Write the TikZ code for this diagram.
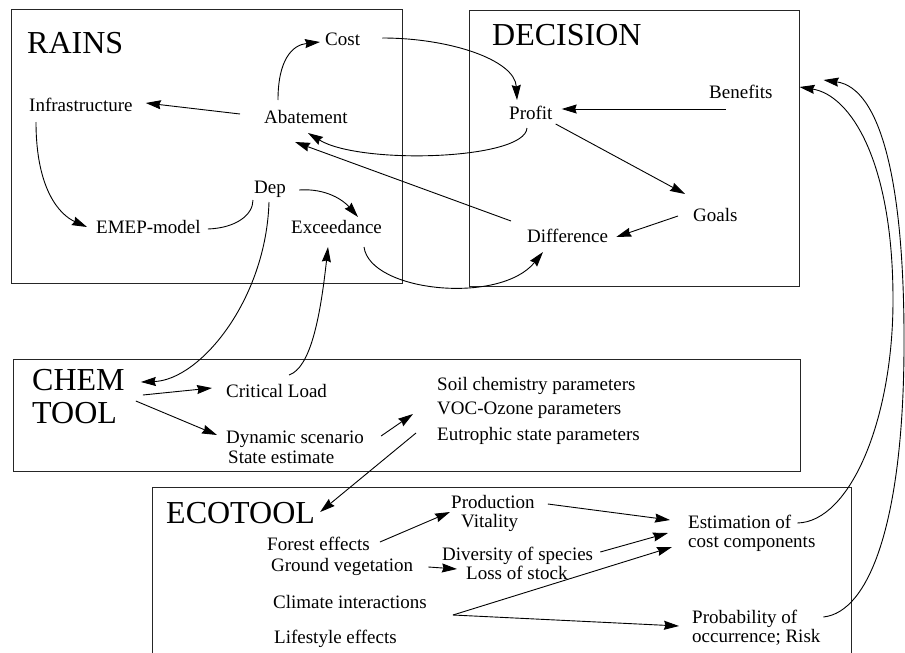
\documentclass[tikz,border=0pt]{standalone}
\usepackage{fontspec}
\setmainfont{Liberation Serif}
\usetikzlibrary{arrows.meta}
\begin{document}
\begin{tikzpicture}[x=1pt,y=-1pt,
  txt/.style={inner sep=0pt,anchor=base west,font=\fontsize{19}{19}\selectfont},
  big/.style={inner sep=0pt,anchor=base west,font=\fontsize{32}{32}\selectfont},
  frame/.style={draw=black!85,line width=1pt},
  conn/.style={line width=0.9pt,-{Stealth[length=15pt,width=9pt,inset=1.5pt]}},
  plain/.style={line width=0.9pt}]
\useasboundingbox (0,0) rectangle (905,653);
% frames
\node[frame,minimum width=391pt,minimum height=274pt,inner sep=0pt] (rainsbox) at (206.5,146) {};
\node[frame,minimum width=330pt,minimum height=276pt,inner sep=0pt] (decbox) at (634,148) {};
\node[frame,minimum width=787pt,minimum height=112pt,inner sep=0pt] (chembox) at (406.5,415) {};
\draw[frame] (152,653) -- (152,487) -- (851,487) -- (851,653);
% RAINS
\node[big] (rains) at (27,53) {RAINS};
\node[txt] (cost) at (325,45) {Cost};
\node[txt] (infra) at (29,111) {Infrastructure};
\node[txt] (abat) at (264,123) {Abatement};
\node[txt] (dep) at (254,193) {Dep};
\node[txt] (emep) at (96,233) {EMEP-model};
\node[txt] (exc) at (291,233) {Exceedance};
% DECISION
\node[big] (decision) at (492,45) {DECISION};
\node[txt] (benef) at (709,98) {Benefits};
\node[txt] (profit) at (509,119) {Profit};
\node[txt] (goals) at (693,221) {Goals};
\node[txt] (diff) at (527,242) {Difference};
% CHEM TOOL
\node[big] (chem) at (32,390) {CHEM};
\node[big] (tool) at (32,423) {TOOL};
\node[txt] (crit) at (226,397) {Critical Load};
\node[txt] (dyn) at (226,443) {Dynamic scenario};
\node[txt] (state) at (228,463) {State estimate};
\node[txt] (soil) at (437,390) {Soil chemistry parameters};
\node[txt] (voc) at (437,414) {VOC-Ozone parameters};
\node[txt] (eut) at (437,440) {Eutrophic state parameters};
% ECOTOOL
\node[big] (eco) at (166,523) {ECOTOOL};
\node[txt] (forest) at (267,550) {Forest effects};
\node[txt] (ground) at (271,571) {Ground vegetation};
\node[txt] (climate) at (273,608) {Climate interactions};
\node[txt] (life) at (274,643) {Lifestyle effects};
\node[txt] (prod) at (451,508) {Production};
\node[txt] (vital) at (461,527) {Vitality};
\node[txt] (divers) at (442,560) {Diversity of species};
\node[txt] (loss) at (466,579) {Loss of stock};
\node[txt] (est1) at (688,528) {Estimation of};
\node[txt] (est2) at (688,547) {cost components};
\node[txt] (prob1) at (692,623) {Probability of};
\node[txt] (prob2) at (692,642) {occurrence; Risk};
% RAINS connectors
\draw[conn] ([shift={(14,-23)}]abat.base west) .. controls +(0,-40) and +(-28,3) .. ([shift={(-5,-3)}]cost.base west);
\draw[conn] ([shift={(-24,-9)}]abat.base west) -- ([shift={(13,-8)}]infra.base east);
\draw[conn] ([shift={(7,11)}]infra.base west) .. controls +(0,68) and +(-27,-12) .. ([shift={(-9,-6)}]emep.base west);
\draw[plain] ([shift={(7,-4)}]emep.base east) .. controls +(28,-1) and +(0,15) .. ([shift={(-1,7)}]dep.base west);
\draw[conn] ([shift={(13,-3)}]dep.base east) .. controls +(28,-2) and +(-14,-16) .. ([shift={(67,-16)}]exc.base west);
\draw[conn] ([shift={(15,9)}]dep.base west) .. controls (266,300) and (200,380) .. ([shift={(16,-8)}]chem.base east);
\draw[conn] ([shift={(63,-22)}]crit.base west) .. controls (310,368) and (320,320) .. ([shift={(37,14)}]exc.base west);
\draw[conn] ([shift={(73,14)}]exc.base west) .. controls (370,292) and (500,305) .. ([shift={(16,10)}]diff.base west);
% DECISION connectors
\draw[conn] ([shift={(22,-7)}]cost.base east) .. controls (450,38) and (515,60) .. ([shift={(8,-19)}]profit.base west);
\draw[conn] ([shift={(18,9)}]profit.base west) .. controls (525,160) and (360,165) .. ([shift={(44,10)}]abat.base west);
\draw[conn] ([shift={(-16,-21)}]diff.base west) -- ([shift={(31,19)}]abat.base west);
\draw[conn] ([shift={(17,11)}]benef.base west) -- ([shift={(9,-10)}]profit.base east);
\draw[conn] ([shift={(3,5)}]profit.base east) -- ([shift={(-8,-27)}]goals.base west);
\draw[conn] ([shift={(-15,-5)}]goals.base west) -- ([shift={(8,-5)}]diff.base east);
% CHEM connectors
\draw[conn] ([shift={(18,5)}]chem.base east) -- ([shift={(-14,-9)}]crit.base west);
\draw[conn] ([shift={(11,11)}]chem.base east) -- ([shift={(-9,-8)}]dyn.base west);
\draw[conn] ([shift={(17,-7)}]dyn.base east) -- ([shift={(-24,24)}]soil.base west);
\draw[conn] ([shift={(-21,-7)}]eut.base west) -- ([shift={(5,-11)}]eco.base east);
% ECOTOOL connectors
\draw[conn] ([shift={(10,-8)}]forest.base east) -- ([shift={(-1,4)}]prod.base west);
\draw[conn] ([shift={(15,-4)}]ground.base east) -- ([shift={(-9,-10)}]loss.base west);
\draw[conn] ([shift={(13,-4)}]prod.base east) -- ([shift={(-18,-8)}]est1.base west);
\draw[conn] ([shift={(7,-8)}]divers.base east) -- ([shift={(-20,5)}]est1.base west);
\draw[conn] ([shift={(26,7)}]climate.base east) -- ([shift={(-16,0)}]est2.base west);
\draw[conn] ([shift={(26,7)}]climate.base east) -- ([shift={(-13,3)}]prob1.base west);
% feedback to DECISION
\draw[conn] ([shift={(6,-5)}]est1.base east) .. controls (850,522) and (893,420) .. (893,300) .. controls (893,160) and (850,95) .. ([shift={(0,-61)}]decbox.east);
\draw[conn] ([shift={(26,-6)}]prob1.base east) .. controls (870,612) and (903,520) .. (904,350) .. controls (905,180) and (880,88) .. ([shift={(24,-68)}]decbox.east);
\end{tikzpicture}
\end{document}
